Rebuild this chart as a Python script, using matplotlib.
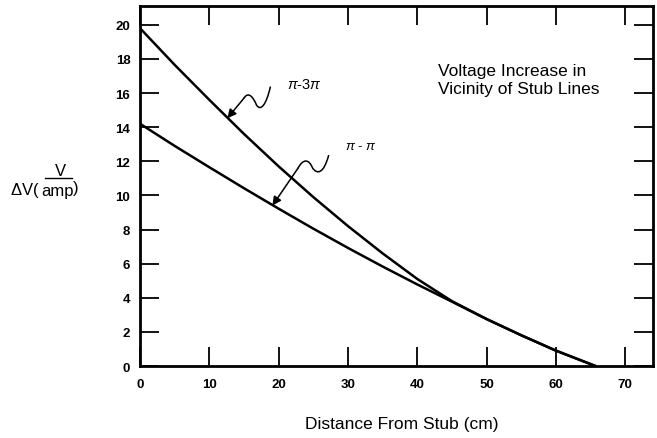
import numpy as np
import matplotlib
matplotlib.use("Agg")
import matplotlib.pyplot as plt
from matplotlib.path import Path
from matplotlib.patches import PathPatch
from matplotlib.lines import Line2D

plt.rcParams['font.family'] = ['Liberation Sans', 'DejaVu Sans']
plt.rcParams['mathtext.fontset'] = 'custom'
plt.rcParams['mathtext.rm'] = 'Liberation Sans'
plt.rcParams['mathtext.it'] = 'Liberation Sans:italic'

# values
dist_3pi = [0, 5, 10, 15, 20, 25, 30, 35, 40, 45, 50, 55, 60, 65.7]
dv_3pi = [19.8, 17.65, 15.6, 13.6, 11.7, 9.9, 8.2, 6.6, 5.1, 3.8, 2.75, 1.8, 0.9, 0.0]
dist_pipi = [0, 5, 10, 15, 20, 25, 30, 35, 40, 45, 50, 55, 60, 65.7]
dv_pipi = [14.2, 12.9, 11.65, 10.42, 9.22, 8.05, 6.92, 5.83, 4.78, 3.77, 2.75, 1.8, 0.9, 0.0]

x_ticks = [0, 10, 20, 30, 40, 50, 60, 70]
y_ticks = [0, 2, 4, 6, 8, 10, 12, 14, 16, 18, 20]

W, H = 657, 439
fig = plt.figure(figsize=(W / 100, H / 100), dpi=100)
ax = fig.add_axes([140 / W, 1 - 367 / H, 513 / W, 360 / H])

ax.plot(dist_3pi, dv_3pi, color='black', lw=1.8, solid_joinstyle='round')
ax.plot(dist_pipi, dv_pipi, color='black', lw=1.8, solid_joinstyle='round')

ax.set_xlim(0, 74)
ax.set_ylim(0, 21.1)
ax.set_xticks(x_ticks)
ax.set_yticks(y_ticks)
ax.tick_params(direction='in', length=13.5, width=1.3, top=True, right=True,
               labelsize=9.5, pad=7)
ax.tick_params(axis='x', pad=9)
for lab in ax.get_xticklabels() + ax.get_yticklabels():
    lab.set_fontweight('bold')
for s in ax.spines.values():
    s.set_linewidth(2.0)


# wavy pointer arrows (bezier squiggle + straight shaft with head)
def squiggle(verts, tip):
    codes = [Path.MOVETO] + [Path.CURVE4] * (len(verts) - 1)
    ax.add_patch(PathPatch(Path(verts, codes), fill=False, color='black',
                           lw=1.1, capstyle='round'))
    ax.annotate('', xy=tip, xytext=verts[-1],
                arrowprops=dict(arrowstyle='-|>', color='black', lw=1.1,
                                mutation_scale=13, shrinkA=0, shrinkB=0))


squiggle([(18.8, 16.35), (18.2, 15.3), (17.4, 14.9), (16.8, 15.3),
          (16.3, 15.8), (15.6, 16.1), (15.0, 15.7)], (12.6, 14.52))
squiggle([(27.2, 12.33), (26.5, 11.3), (25.6, 11.2), (24.9, 11.6),
          (24.4, 12.1), (23.6, 12.2), (22.8, 11.6)], (19.1, 9.4))

ax.text(21.2, 16.5, r'$\pi$-3$\pi$', fontsize=10.5, va='center', ha='left')
ax.text(29.6, 12.9, r'$\pi$ - $\pi$', fontsize=9.5, va='center', ha='left')
ax.text(43.0, 17.3, 'Voltage Increase in', fontsize=12.5, va='center', ha='left')
ax.text(43.0, 16.25, 'Vicinity of Stub Lines', fontsize=12.5, va='center', ha='left')

# y label: dV(V / amp) with a full size fraction
fig.text(10 / W, 1 - 191 / H, r'$\Delta$V(', fontsize=12, va='center', ha='left')
fig.text(60 / W, 1 - 172 / H, 'V', fontsize=12, va='center', ha='center')
fig.add_artist(Line2D([45 / W, 72 / W], [1 - 179 / H, 1 - 179 / H],
                      color='black', lw=1.0))
fig.text(58 / W, 1 - 192 / H, 'amp', fontsize=12, va='center', ha='center')
fig.text(73 / W, 1 - 189 / H, ')', fontsize=12, va='center', ha='left')

fig.text(305 / W, 1 - 425 / H, 'Distance From Stub (cm)',
         fontsize=12.5, va='center', ha='left')

fig.savefig('out.png', dpi=100)
